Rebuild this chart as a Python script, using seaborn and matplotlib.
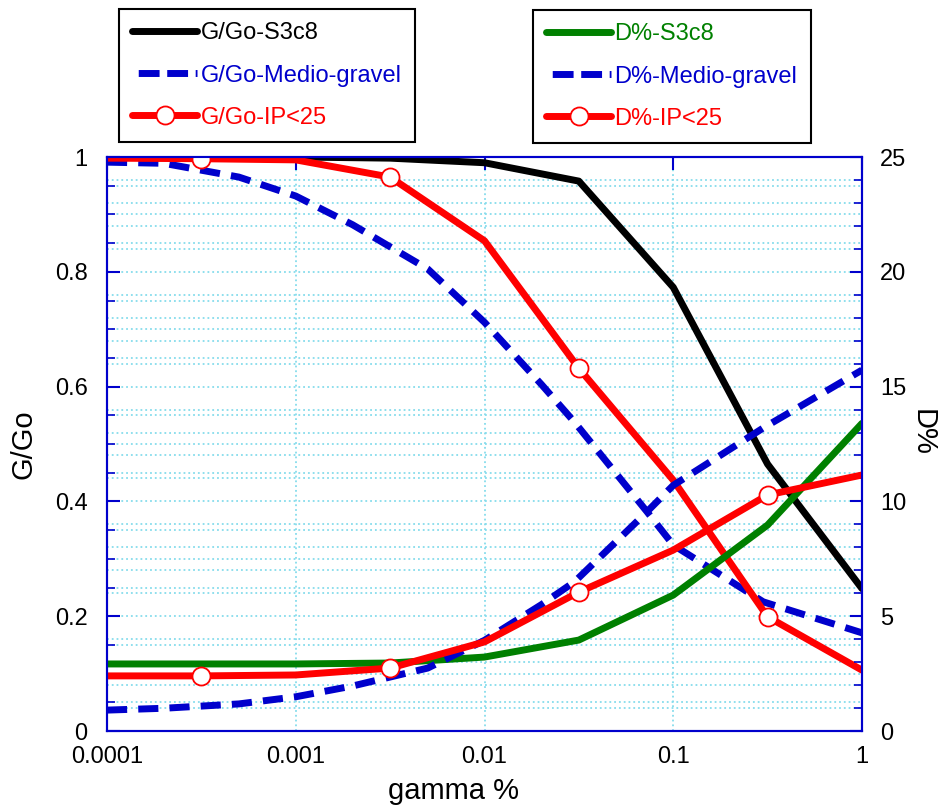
import numpy as np
import pandas as pd
import matplotlib
matplotlib.use("Agg")
import matplotlib.pyplot as plt
import seaborn as sns
from matplotlib.lines import Line2D
from matplotlib.ticker import FixedLocator, FixedFormatter, MultipleLocator, NullLocator

# ---------------- data ----------------
gamma = [1e-4, 3.16e-4, 1e-3, 3.16e-3, 1e-2, 3.16e-2, 0.1, 0.316, 1.0]
gg_s3c8 = [1.0, 1.0, 1.0, 0.998, 0.99, 0.958, 0.773, 0.465, 0.248]
d_s3c8 = [2.92, 2.92, 2.92, 2.96, 3.22, 3.96, 5.92, 8.97, 13.4]
gg_ip = [0.998, 0.997, 0.995, 0.965, 0.854, 0.632, 0.437, 0.199, 0.106]
d_ip = [2.40, 2.40, 2.44, 2.74, 3.88, 6.05, 7.88, 10.28, 11.15]
marker_idx = [1, 3, 5, 7]

gamma_mg = [1e-4, 2e-4, 5e-4, 1e-3, 2e-3, 5e-3, 1e-2, 2e-2, 3e-2, 7.26e-2, 0.1, 0.3, 1.0]
gg_mg = [0.991, 0.989, 0.965, 0.932, 0.882, 0.805, 0.712, 0.604, 0.538, 0.382, 0.324, 0.225, 0.171]
d_mg = [0.91, 0.99, 1.18, 1.49, 1.96, 2.74, 3.95, 5.5, 6.5, 9.55, 10.7, 13.2, 15.72]

x_ticks = [1e-4, 1e-3, 1e-2, 1e-1, 1.0]
x_ticklabels = ["0.0001", "0.001", "0.01", "0.1", "1"]
g_ticks = [0, 0.2, 0.4, 0.6, 0.8, 1.0]
g_ticklabels = ["0", "0.2", "0.4", "0.6", "0.8", "1"]
d_ticks = [0, 5, 10, 15, 20, 25]
d_ticklabels = ["0", "5", "10", "15", "20", "25"]

left_labels = ["G/Go-S3c8", "G/Go-Medio-gravel", "G/Go-IP<25"]
right_labels = ["D%-S3c8", "D%-Medio-gravel", "D%-IP<25"]

# ---------------- style ----------------
sns.set_theme(style="white")
plt.rcParams["font.family"] = ["Liberation Sans", "DejaVu Sans"]

BLUE = "#0000CC"
RED = "#FF0000"
GREEN = "#008000"
GRID = "#86dcec"
LW = 5.0
DASH = (2.9, 1.6)

fig = plt.figure(figsize=(9.4, 8.1), dpi=100)
fig.patch.set_facecolor("white")
rect = [107 / 940, 1 - 731 / 810, 755 / 940, 574 / 810]

# background axes for the D% grid lines
bg = fig.add_axes(rect)
bg.set_zorder(0)
bg.set_xscale("log")
bg.set_xlim(1e-4, 1)
bg.set_ylim(0, 25)
bg.xaxis.set_major_locator(FixedLocator(x_ticks))
bg.xaxis.set_minor_locator(NullLocator())
bg.yaxis.set_major_locator(NullLocator())
bg.yaxis.set_minor_locator(MultipleLocator(1))
bg.grid(which="minor", axis="y", color=GRID, ls=":", lw=1.3)
bg.grid(which="major", axis="x", color=GRID, ls=":", lw=1.3)
bg.tick_params(which="both", length=0, labelbottom=False, labelleft=False)
for s in bg.spines.values():
    s.set_visible(False)

ax = fig.add_axes(rect)
ax.set_zorder(1)
ax.patch.set_visible(False)
ax2 = ax.twinx()
ax2.set_zorder(2)
ax2.patch.set_visible(False)

# ---------------- G/Go on left axis ----------------
sns.lineplot(x=gamma, y=gg_s3c8, ax=ax, color="black", lw=LW)
sns.lineplot(x=gamma_mg, y=gg_mg, ax=ax, color=BLUE, lw=LW, ls="--")
ax.lines[-1].set_dashes(DASH)
sns.lineplot(x=gamma, y=gg_ip, ax=ax, color=RED, lw=LW)
sns.scatterplot(x=[gamma[i] for i in marker_idx], y=[gg_ip[i] for i in marker_idx],
                ax=ax, marker="o", s=169, facecolor="white", edgecolor=RED,
                linewidth=1.3, zorder=5)

# ---------------- D% on right axis ----------------
sns.lineplot(x=gamma, y=d_s3c8, ax=ax2, color=GREEN, lw=LW)
sns.lineplot(x=gamma_mg, y=d_mg, ax=ax2, color=BLUE, lw=LW, ls="--")
ax2.lines[-1].set_dashes(DASH)
sns.lineplot(x=gamma, y=d_ip, ax=ax2, color=RED, lw=LW)
sns.scatterplot(x=[gamma[i] for i in marker_idx], y=[d_ip[i] for i in marker_idx],
                ax=ax2, marker="o", s=169, facecolor="white", edgecolor=RED,
                linewidth=1.3, zorder=5)

# ---------------- axes ----------------
ax.set_xscale("log")
ax.set_xlim(1e-4, 1)
ax.set_ylim(0, 1)
ax2.set_ylim(0, 25)

ax.xaxis.set_major_locator(FixedLocator(x_ticks))
ax.xaxis.set_major_formatter(FixedFormatter(x_ticklabels))
ax.xaxis.set_minor_locator(NullLocator())
ax.yaxis.set_major_locator(FixedLocator(g_ticks))
ax.yaxis.set_major_formatter(FixedFormatter(g_ticklabels))
ax.yaxis.set_minor_locator(MultipleLocator(0.05))
ax2.yaxis.set_major_locator(FixedLocator(d_ticks))
ax2.yaxis.set_major_formatter(FixedFormatter(d_ticklabels))
ax2.yaxis.set_minor_locator(MultipleLocator(1))

ax.grid(which="minor", axis="y", color=GRID, ls=":", lw=1.3)
ax.grid(which="major", axis="y", visible=False)
ax.set_axisbelow(True)

TS = 17
ax.tick_params(axis="x", which="major", direction="in", length=9, width=1.5,
               color=BLUE, labelsize=TS, labelcolor="black", top=True, pad=11)
ax.tick_params(axis="y", which="major", direction="in", length=9, width=1.5,
               color=BLUE, labelsize=TS, labelcolor="black", pad=14)
ax.tick_params(axis="y", which="minor", direction="in", length=5.5, width=1.2,
               color=BLUE)
ax2.tick_params(axis="y", which="major", direction="in", length=9, width=1.5,
                color=BLUE, labelsize=TS, labelcolor="black", pad=13)
ax2.tick_params(axis="y", which="minor", direction="in", length=5.5, width=1.2,
                color=BLUE)

for a in (ax, ax2):
    for s in a.spines.values():
        s.set_color(BLUE)
        s.set_linewidth(1.5)
        s.set_visible(True)

ax.set_xlabel("gamma %", fontsize=21, color="black")
ax.xaxis.set_label_coords((454 - 107) / 755, -0.08)
ax.set_ylabel("G/Go", fontsize=21, color="black")
ax.yaxis.set_label_coords(-0.092, 0.5)
ax2.set_ylabel("D%", fontsize=21, color="black", rotation=270, va="center")
ax2.yaxis.set_label_coords(1.08, 0.52)

# ---------------- legends ----------------
def handles(colors):
    h = []
    for i, c in enumerate(colors):
        if i == 1:
            ln = Line2D([], [], color=BLUE, lw=LW, ls=(3.2, (3.0, 1.1)))
        elif i == 2:
            ln = Line2D([], [], color=RED, lw=LW, marker="o", markersize=13,
                        markerfacecolor="white", markeredgecolor=RED,
                        markeredgewidth=1.3)
        else:
            ln = Line2D([], [], color=c, lw=LW)
        h.append(ln)
    return h

leg_kw = dict(loc="upper left", borderaxespad=0, fontsize=17, frameon=True,
              fancybox=False, framealpha=1, edgecolor="black",
              handlelength=2.75, handletextpad=0.13, borderpad=0.57,
              labelspacing=0.85, labelcolor="linecolor")

l1 = fig.legend(handles=handles(["black", BLUE, RED]), labels=left_labels,
                bbox_to_anchor=(119 / 940, 1 - 9 / 810), **leg_kw)
l1.get_frame().set_linewidth(1.5)
l2 = fig.legend(handles=handles([GREEN, BLUE, RED]), labels=right_labels,
                bbox_to_anchor=(533 / 940, 1 - 10 / 810), **leg_kw)
l2.get_frame().set_linewidth(1.5)

fig.savefig("out.png", dpi=100, facecolor="white")
